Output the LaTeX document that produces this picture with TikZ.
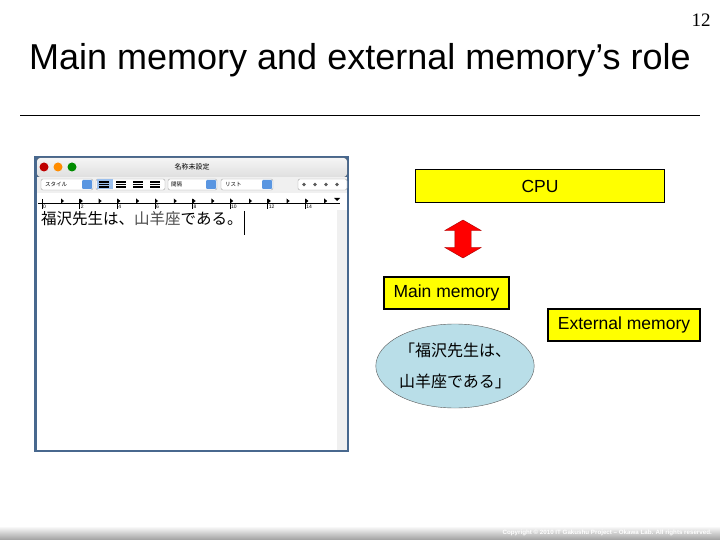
\documentclass[tikz,border=0pt]{standalone}
\usepackage{fontspec}
\setmainfont{Liberation Sans}
\newfontfamily\jpfont{Noto Sans CJK JP}
\newfontfamily\numfont{Liberation Serif}
\usepackage{xcolor}
\usetikzlibrary{shapes.geometric,shapes.arrows,positioning}

\definecolor{memyellow}{RGB}{255,255,0}
\definecolor{notebg}{RGB}{185,222,232}
\definecolor{winframe}{RGB}{72,104,142}
\definecolor{btnblue}{RGB}{90,150,225}

\tikzset{
  membox/.style={draw=black,line width=1.8pt,fill=memyellow,inner sep=0pt,
    font=\fontsize{17.5}{20}\selectfont},
  popup/.style={draw=gray!70,rounded corners=2pt,fill=white,line width=0.4pt},
  tinyjp/.style={font=\jpfont\fontsize{5.5}{6}\selectfont,inner sep=0pt}
}

\begin{document}
\begin{tikzpicture}[x=1pt,y=-1pt]
  \useasboundingbox (0,0) rectangle (720,540);
  \fill[white] (0,0) rectangle (720,540);

  % title and page number
  \node[font=\numfont\fontsize{19}{21}\selectfont] (pageno) at (701,20) {12};
  \node[font=\fontsize{36}{40}\selectfont] (title) at (360,60) {Main memory and external memory’s role};
  \draw[line width=1pt] (20,116)--(700,116);

  % the editor window (screenshot)
  \fill[winframe] (34,156) rectangle (349,452);
  \fill[top color=gray!8,bottom color=gray!25,rounded corners=3pt] (37,158) rectangle (347,177);
  \fill[red!75!black] (44,167) circle (4.5pt);
  \fill[orange!90!yellow] (58,167) circle (4.5pt);
  \fill[green!55!black] (72,167) circle (4.5pt);
  \node[tinyjp,font=\jpfont\fontsize{7}{8}\selectfont] (wintitle) at (192,167) {名称未設定};
  \fill[gray!12] (37,177) rectangle (347,193);
  % toolbar
  \draw[popup] (41,179) rectangle (93,190);
  \node[tinyjp,anchor=west] (styl) at (45,184.5) {スタイル};
  \fill[btnblue,rounded corners=1pt] (82,180) rectangle (92,189);
  \draw[popup] (96,179) rectangle (165,190);
  \fill[btnblue!60] (96.5,179.5) rectangle (113,189.5);
  \foreach \bx in {104,121,138,155}
    \draw[line width=1.2pt] (\bx-5,182)--(\bx+5,182) (\bx-5,184.5)--(\bx+5,184.5) (\bx-5,187)--(\bx+5,187);
  \draw[popup] (168,179) rectangle (217,190);
  \node[tinyjp,anchor=west] (gap) at (171,184.5) {間隔};
  \fill[btnblue,rounded corners=1pt] (206,180) rectangle (216,189);
  \draw[popup] (221,179) rectangle (273,190);
  \node[tinyjp,anchor=west] (lst) at (225,184.5) {リスト};
  \fill[btnblue,rounded corners=1pt] (262,180) rectangle (272,189);
  \draw[popup] (298,179) rectangle (347,190);
  \foreach \bx in {304,315,326,337}
    \fill[gray!70!black] (\bx,184.5) circle (1.8pt);
  % ruler
  \fill[white] (37,193) rectangle (347,210);
  \draw[line width=0.4pt] (38,203)--(340,203);
  \foreach \k [count=\i from 0] in {0,2,...,14} {
    \draw[line width=0.5pt] (42+37.6*\i,199)--(42+37.6*\i,209);
    \node[font=\fontsize{5}{6}\selectfont,inner sep=0pt,anchor=west] at (43+37.6*\i,206.5) {\k};
  }
  \foreach \i in {0,...,14}
    \fill[black] (61+18.8*\i,198.5) -- ++(3,2.5) -- ++(-3,2.5) -- cycle;
  \fill[black] (334,198)--(340,198)--(337,201)--cycle;
  % text area
  \fill[white] (37,210) rectangle (337,450);
  \fill[gray!12] (337,210) rectangle (347,450);
  \node[font=\jpfont\fontsize{15.5}{18}\selectfont,anchor=west,inner sep=0pt] (doctext) at (41,219)
    {福沢先生は、\textcolor{black!70}{山羊座}である。};
  \draw[line width=0.8pt] (244,211)--(244,235);

  % CPU, memory and data
  \node[membox,minimum width=249pt,minimum height=33pt] (cpu) at (540,186) {CPU};
  \node[double arrow,draw=red!65!black,fill=red,rotate=90,minimum height=38pt,
    inner xsep=0pt,inner ysep=8pt,double arrow head extend=10pt,double arrow tip angle=120] (bus) at (463,239) {};
  \node[membox,minimum width=125pt,minimum height=32pt] (mainmem) at (446.5,293) {Main memory};
  \node[membox,minimum width=152pt,minimum height=32pt] (extmem) at (624,325) {External memory};
  \node[ellipse,draw=gray!70!black,fill=notebg,minimum width=148pt,minimum height=84pt,
    inner sep=0pt,align=center,font=\jpfont\fontsize{16}{31}\selectfont] (data) at (455,366)
    {「福沢先生は、\\山羊座である」};

  % footer
  \shade[top color=white,bottom color=gray!75] (0,526) rectangle (720,540);
  \node[white,font=\bfseries\fontsize{6.2}{7}\selectfont,anchor=east,inner sep=0pt] (copyr) at (712,533)
    {Copyright © 2010 IT Gakushu Project -- Okawa Lab. All rights reserved.};
\end{tikzpicture}
\end{document}
